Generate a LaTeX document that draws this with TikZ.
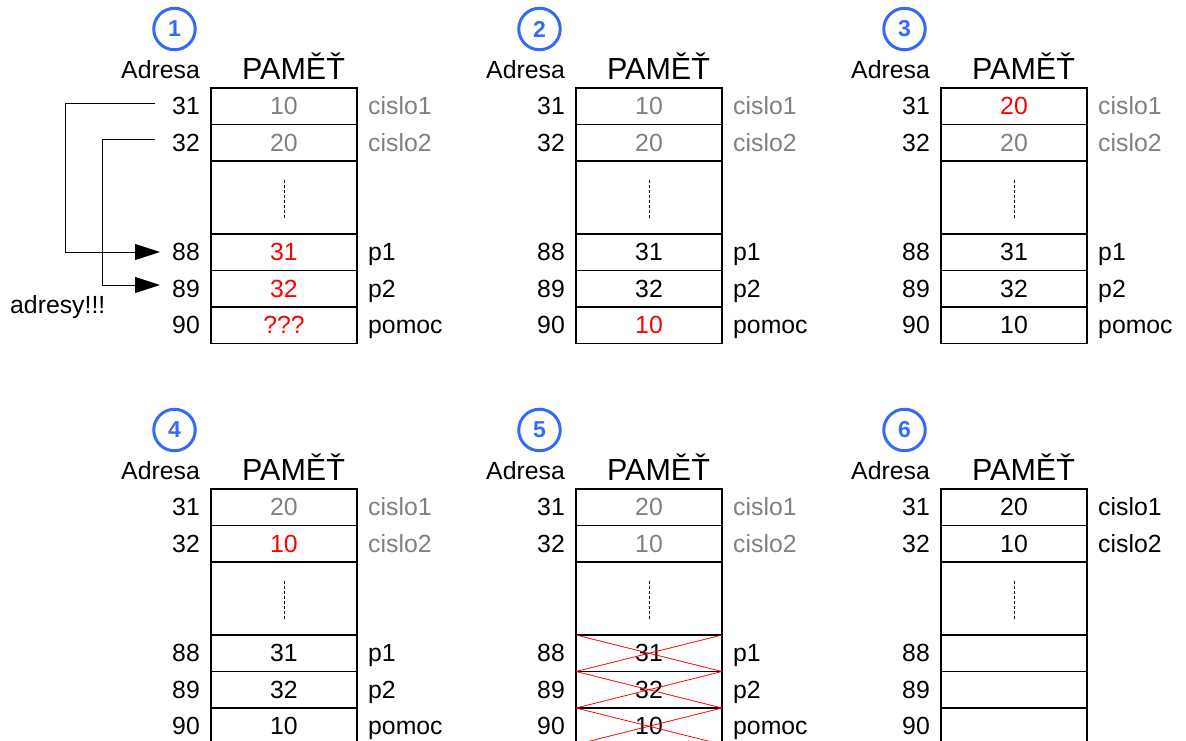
\documentclass[tikz,border=0pt]{standalone}
\usepackage{fontspec}
\setmainfont{Liberation Sans}
\usetikzlibrary{arrows.meta}
\definecolor{circblue}{RGB}{51,106,250}
\definecolor{txtgray}{RGB}{128,128,128}
\tikzset{
  cellbox/.style={draw=black, line width=1.5pt, minimum width=146pt, inner sep=0pt, outer sep=0pt},
  txt/.style={font=\fontsize{24.8}{28}\selectfont, inner sep=0pt},
  val/.style={txt, anchor=base},
  addr/.style={txt, anchor=base east},
  lbl/.style={txt, anchor=base west},
  head/.style={font=\fontsize{30.5}{34}\selectfont, inner sep=0pt, anchor=base},
  numcirc/.style={circle, draw=circblue, line width=3pt, minimum size=41.5pt, inner sep=0pt, text=circblue, font=\fontsize{23}{26}\bfseries\selectfont},
  gapline/.style={line width=0.6pt, dash pattern=on 3pt off 2pt},
  crossline/.style={red, line width=0.8pt},
  link/.style={line width=1pt, -{Triangle[length=25pt,width=16pt]}},
}
% #1 name, #2 x-left, #3 y-top, #4 number
\newcommand{\mempanel}[4]{%
  \begin{scope}[shift={(#2,#3)}]
    \node[numcirc] (#1-num) at (-36.5,-59) {#4};
    \node[addr] (#1-adr) at (-11,-10) {Adresa};
    \node[head] (#1-head) at (82.5,-9) {PAMĚŤ};
    \node[cellbox, minimum height=36.5pt] (#1-c31) at (73,18.25) {};
    \node[cellbox, minimum height=36.5pt] (#1-c32) at (73,54.75) {};
    \node[cellbox, minimum height=73pt] (#1-cg) at (73,109.5) {};
    \node[cellbox, minimum height=36.5pt] (#1-c88) at (73,164.25) {};
    \node[cellbox, minimum height=36.5pt] (#1-c89) at (73,200.75) {};
    \node[cellbox, minimum height=36.5pt] (#1-c90) at (73,237.25) {};
    \draw[gapline] ([yshift=18pt]#1-cg.center) -- ([yshift=-21pt]#1-cg.center);
    \foreach \a in {31,32,88,89,90}{
      \node[addr] (#1-a\a) at ([xshift=-11pt,yshift=-8.5pt]#1-c\a.west) {\a};
    }
  \end{scope}%
}
\newcommand{\cellval}[4]{\node[val,text=#3] (#1-v#2) at ([yshift=-8.5pt]#1-c#2.center) {#4};}
\newcommand{\celllbl}[4]{\node[lbl,text=#3] (#1-l#2) at ([xshift=11pt,yshift=-8.5pt]#1-c#2.east) {#4};}

\begin{document}
\begin{tikzpicture}[x=1pt,y=-1pt]
\useasboundingbox (0,0) rectangle (1186,740);

% ---------- panel 1
\mempanel{p1}{211}{88}{1}
\cellval{p1}{31}{txtgray}{10}
\cellval{p1}{32}{txtgray}{20}
\cellval{p1}{88}{red}{31}
\cellval{p1}{89}{red}{32}
\cellval{p1}{90}{red}{???}
\celllbl{p1}{31}{txtgray}{cislo1}
\celllbl{p1}{32}{txtgray}{cislo2}
\celllbl{p1}{88}{black}{p1}
\celllbl{p1}{89}{black}{p2}
\celllbl{p1}{90}{black}{pomoc}
\coordinate (s1) at (155,103);
\coordinate (t1) at (160,252);
\coordinate (s2) at (155,139);
\coordinate (t2) at (160,285);
\draw[link] (s1) -- (65,103) |- (t1);
\draw[link] (s2) -- (102,139) |- (t2);
\node[lbl,text=black] (adresy) at (10,313) {adresy!!!};

% ---------- panel 2
\mempanel{p2}{576}{88}{2}
\cellval{p2}{31}{txtgray}{10}
\cellval{p2}{32}{txtgray}{20}
\cellval{p2}{88}{black}{31}
\cellval{p2}{89}{black}{32}
\cellval{p2}{90}{red}{10}
\celllbl{p2}{31}{txtgray}{cislo1}
\celllbl{p2}{32}{txtgray}{cislo2}
\celllbl{p2}{88}{black}{p1}
\celllbl{p2}{89}{black}{p2}
\celllbl{p2}{90}{black}{pomoc}

% ---------- panel 3
\mempanel{p3}{941}{88}{3}
\cellval{p3}{31}{red}{20}
\cellval{p3}{32}{txtgray}{20}
\cellval{p3}{88}{black}{31}
\cellval{p3}{89}{black}{32}
\cellval{p3}{90}{black}{10}
\celllbl{p3}{31}{txtgray}{cislo1}
\celllbl{p3}{32}{txtgray}{cislo2}
\celllbl{p3}{88}{black}{p1}
\celllbl{p3}{89}{black}{p2}
\celllbl{p3}{90}{black}{pomoc}

% ---------- panel 4
\mempanel{p4}{211}{489}{4}
\cellval{p4}{31}{txtgray}{20}
\cellval{p4}{32}{red}{10}
\cellval{p4}{88}{black}{31}
\cellval{p4}{89}{black}{32}
\cellval{p4}{90}{black}{10}
\celllbl{p4}{31}{txtgray}{cislo1}
\celllbl{p4}{32}{txtgray}{cislo2}
\celllbl{p4}{88}{black}{p1}
\celllbl{p4}{89}{black}{p2}
\celllbl{p4}{90}{black}{pomoc}

% ---------- panel 5
\mempanel{p5}{576}{489}{5}
\cellval{p5}{31}{txtgray}{20}
\cellval{p5}{32}{txtgray}{10}
\cellval{p5}{88}{black}{31}
\cellval{p5}{89}{black}{32}
\cellval{p5}{90}{black}{10}
\celllbl{p5}{31}{txtgray}{cislo1}
\celllbl{p5}{32}{txtgray}{cislo2}
\celllbl{p5}{88}{black}{p1}
\celllbl{p5}{89}{black}{p2}
\celllbl{p5}{90}{black}{pomoc}
\foreach \r in {88,89,90}{
  \draw[crossline] (p5-c\r.north west) -- (p5-c\r.south east);
  \draw[crossline] (p5-c\r.south west) -- (p5-c\r.north east);
}

% ---------- panel 6
\mempanel{p6}{941}{489}{6}
\cellval{p6}{31}{black}{20}
\cellval{p6}{32}{black}{10}
\celllbl{p6}{31}{black}{cislo1}
\celllbl{p6}{32}{black}{cislo2}
\end{tikzpicture}
\end{document}
